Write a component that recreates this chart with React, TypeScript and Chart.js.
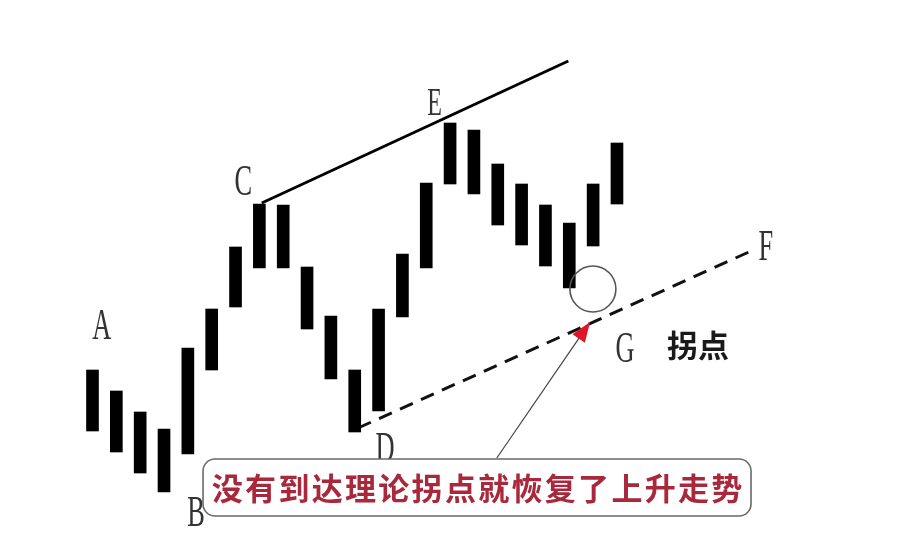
import React, { useRef, useEffect } from "react";
import { Chart, registerables } from "chart.js";

Chart.register(...registerables);

// bar index along the x axis, price range [low, high] for each bar
const barIndex = [0, 1, 2, 3, 4, 5, 6, 7, 8, 9, 10, 11, 12, 13, 14, 15, 16, 17, 18, 19, 20, 21, 22];
const barLow = [11.1, 9.0, 6.9, 5.0, 8.8, 17.2, 23.5, 27.4, 27.4, 21.3, 16.3, 11.0, 13.1, 22.5, 27.4, 35.8, 34.8, 31.7, 29.7, 27.6, 25.4, 29.6, 33.8];
const barHigh = [17.2, 15.1, 13.0, 11.3, 19.4, 23.3, 29.5, 33.8, 33.7, 27.5, 22.6, 17.2, 23.3, 28.8, 35.9, 41.9, 41.2, 37.8, 35.8, 33.7, 31.9, 35.8, 39.9];

// upper trend line (C -> beyond E) and lower dashed line (D -> F)
const upperLineX = [7.1, 19.96];
const upperLineY = [33.9, 48.1];
const lowerLineX = [11.14, 27.58];
const lowerLineY = [11.4, 29.05];

// point labels
const labelText = ["A", "B", "C", "D", "E", "F", "G"];
const labelX = [0.39, 4.34, 6.33, 12.27, 14.35, 28.25, 22.34];
const labelY = [21.8, 3.1, 36.2, 9.5, 44.05, 29.7, 19.5];

const turnText = "拐点";
const noteText = "没有到达理论拐点就恢复了上升走势";

const annotations = {
  id: "annotations",
  afterDatasetsDraw(chart: any) {
    const { ctx, scales } = chart;
    const px = (v: number) => scales.x.getPixelForValue(v);
    const py = (v: number) => scales.y.getPixelForValue(v);

    ctx.save();

    // letters, narrow serif
    labelText.forEach((t, i) => {
      const size = t === "E" ? 40 : 44;
      ctx.save();
      ctx.translate(px(labelX[i]), py(labelY[i]) + size * 0.33);
      ctx.scale(0.6, 1);
      ctx.font = `${size}px "Liberation Serif", serif`;
      ctx.fillStyle = "#333333";
      ctx.textAlign = "center";
      ctx.textBaseline = "alphabetic";
      ctx.fillText(t, 0, 0);
      ctx.restore();
    });

    // 拐点 label
    ctx.font = 'bold 31px "Noto Sans CJK SC", sans-serif';
    ctx.fillStyle = "#1a1a1a";
    ctx.textAlign = "center";
    ctx.textBaseline = "middle";
    ctx.fillText(turnText, px(25.4), py(19.7));

    // circle around the turning point
    ctx.beginPath();
    ctx.arc(px(20.99), py(25.3), 23, 0, Math.PI * 2);
    ctx.strokeStyle = "#555";
    ctx.lineWidth = 1.6;
    ctx.stroke();

    // arrow from the note to the dashed line
    const ax0 = px(16.96), ay0 = py(8.4);
    const ax1 = px(20.87), ay1 = py(22.0);
    const ang = Math.atan2(ay1 - ay0, ax1 - ax0);
    ctx.beginPath();
    ctx.moveTo(ax0, ay0);
    ctx.lineTo(ax1 - 14 * Math.cos(ang), ay1 - 14 * Math.sin(ang));
    ctx.strokeStyle = "#444";
    ctx.lineWidth = 1.2;
    ctx.stroke();
    ctx.beginPath();
    ctx.moveTo(ax1, ay1);
    ctx.lineTo(ax1 - 20 * Math.cos(ang) + 7.5 * Math.sin(ang), ay1 - 20 * Math.sin(ang) - 7.5 * Math.cos(ang));
    ctx.lineTo(ax1 - 20 * Math.cos(ang) - 7.5 * Math.sin(ang), ay1 - 20 * Math.sin(ang) + 7.5 * Math.cos(ang));
    ctx.closePath();
    ctx.fillStyle = "#e0152a";
    ctx.fill();

    // note box
    const cx = px(16.13), cy = py(5.45);
    const w = 548, h = 57;
    ctx.beginPath();
    ctx.roundRect(cx - w / 2, cy - h / 2, w, h, 12);
    ctx.fillStyle = "#ffffff";
    ctx.fill();
    ctx.strokeStyle = "#6a6a6a";
    ctx.lineWidth = 1.6;
    ctx.stroke();

    ctx.font = 'bold 31px "Noto Sans CJK SC", sans-serif';
    ctx.fillStyle = "#a8283c";
    ctx.textAlign = "center";
    ctx.textBaseline = "middle";
    const step = 33.3;
    const chars = Array.from(noteText);
    const start = cx - (step * (chars.length - 1)) / 2;
    chars.forEach((c, i) => ctx.fillText(c, start + i * step, cy + 1));

    ctx.restore();
  },
};

const App: React.FC = () => {
  const chartRef = useRef<HTMLCanvasElement | null>(null);
  const chartInstance = useRef<Chart | null>(null);

  useEffect(() => {
    if (chartInstance.current) {
      chartInstance.current.destroy();
    }
    if (!chartRef.current) return;

    const bars = barIndex.map((x, i) => ({ x, y: [barLow[i], barHigh[i]] }));

    chartInstance.current = new Chart(chartRef.current, {
      type: "bar",
      data: {
        datasets: [
          {
            type: "bar",
            data: bars as any,
            backgroundColor: "#000000",
            barThickness: 12,
            borderWidth: 0,
          },
          {
            type: "line",
            data: upperLineX.map((x, i) => ({ x, y: upperLineY[i] })),
            borderColor: "#000000",
            borderWidth: 3,
            pointRadius: 0,
            fill: false,
          },
          {
            type: "line",
            data: lowerLineX.map((x, i) => ({ x, y: lowerLineY[i] })),
            borderColor: "#111111",
            borderWidth: 3,
            borderDash: [14, 9],
            pointRadius: 0,
            fill: false,
          },
        ],
      },
      options: {
        animation: false,
        responsive: true,
        maintainAspectRatio: false,
        layout: { padding: 0 },
        plugins: {
          legend: { display: false },
          tooltip: { enabled: false },
        },
        scales: {
          x: {
            type: "linear",
            display: false,
            offset: false,
            min: -3.88,
            max: 34.46,
          },
          y: {
            type: "linear",
            display: false,
            min: 0,
            max: 54.2,
          },
        },
      },
      plugins: [annotations],
    });

    return () => {
      if (chartInstance.current) {
        chartInstance.current.destroy();
        chartInstance.current = null;
      }
    };
  }, []);

  return (
    <div style={{ position: "fixed", left: 0, top: 0, width: 914, height: 542, background: "#fff" }}>
      <canvas ref={chartRef}></canvas>
    </div>
  );
};

export default App;
